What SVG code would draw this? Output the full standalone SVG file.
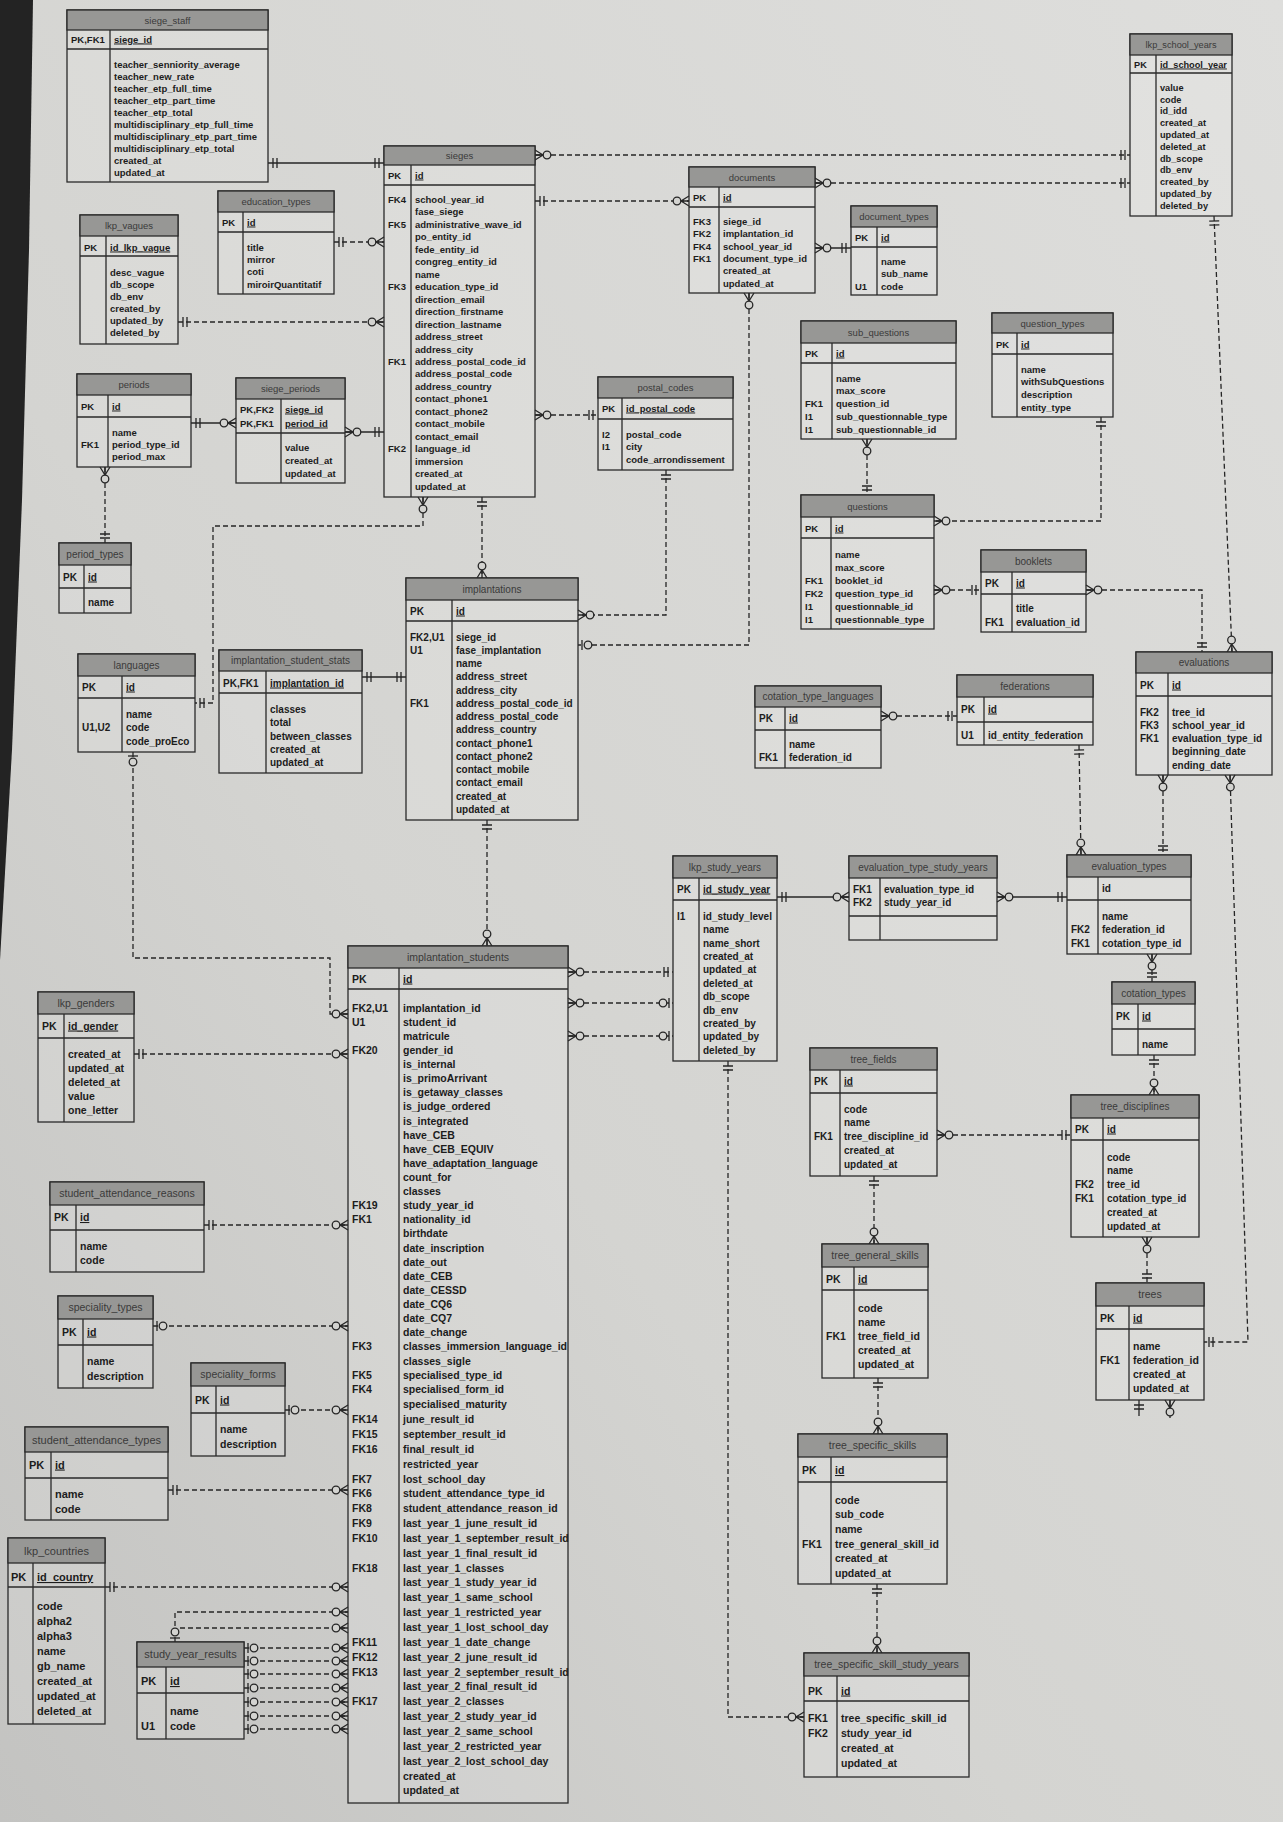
<svg xmlns="http://www.w3.org/2000/svg" width="1283" height="1822" viewBox="0 0 1283 1822">
<defs>
<linearGradient id="paper" x1="1" y1="0" x2="0" y2="1">
<stop offset="0" stop-color="#dededc"/>
<stop offset="0.6" stop-color="#d4d4d1"/>
<stop offset="1" stop-color="#c3c3c1"/>
</linearGradient>
<marker id="one" viewBox="-14 -7 16 14" refX="0" refY="0" markerWidth="16" markerHeight="14" markerUnits="userSpaceOnUse" orient="auto-start-reverse">
<path d="M-5,-5V5M-9,-5V5" stroke="#262626" stroke-width="1.3" fill="none"/>
</marker>
<marker id="zm" viewBox="-18 -7 20 14" refX="0" refY="0" markerWidth="20" markerHeight="14" markerUnits="userSpaceOnUse" orient="auto-start-reverse">
<path d="M0,-5L-8,0L0,5M-8,0H0" stroke="#262626" stroke-width="1.3" fill="none"/>
<circle cx="-12" cy="0" r="3.8" fill="#d3d3d0" stroke="#262626" stroke-width="1.3"/>
</marker>
<marker id="zo" viewBox="-18 -7 20 14" refX="0" refY="0" markerWidth="20" markerHeight="14" markerUnits="userSpaceOnUse" orient="auto-start-reverse">
<path d="M-4,-5V5" stroke="#262626" stroke-width="1.3" fill="none"/>
<circle cx="-10" cy="0" r="3.8" fill="#d3d3d0" stroke="#262626" stroke-width="1.3"/>
</marker>
</defs>
<style>
.bx{fill:#ffffff;fill-opacity:.13;stroke:#2a2a2a;stroke-width:1.3}
.hd{fill:#979795;stroke:#2a2a2a;stroke-width:1.3}
.ln{fill:none;stroke:#2a2a2a;stroke-width:1.3}
text{font-family:"Liberation Sans",Arial,sans-serif}
.tt{font-weight:normal;fill:#3a3a3a;text-anchor:middle}
.k,.a,.pk{font-weight:bold;fill:#1c1c1c}
.pk{text-decoration:underline}
.s0{font-size:9.2px}.s1{font-size:9.5px}.s2{font-size:10px}.s3{font-size:10.5px}.s4{font-size:11px}
.c{fill:none;stroke:#262626;stroke-width:1.3}
.d{stroke-dasharray:5 3}
</style>
<rect x="0" y="0" width="1283" height="1822" fill="url(#paper)"/>
<polygon points="0,0 33,0 29,250 22,500 12,750 0,960" fill="#232323"/>

<g id="connectors">
<path class="c" d="M268,163H384" marker-start="url(#one)" marker-end="url(#one)"/>
<path class="c d" d="M334,242H384" marker-start="url(#one)" marker-end="url(#zm)"/>
<path class="c d" d="M178,322H384" marker-start="url(#one)" marker-end="url(#zm)"/>
<path class="c" d="M191,423H236" marker-start="url(#one)" marker-end="url(#zm)"/>
<path class="c" d="M345,432H384" marker-start="url(#zm)" marker-end="url(#one)"/>
<path class="c d" d="M105,467V543" marker-start="url(#zm)" marker-end="url(#one)"/>
<path class="c d" d="M423,497V526H213V703H195" marker-start="url(#zm)" marker-end="url(#one)"/>
<path class="c d" d="M482,497V578" marker-start="url(#one)" marker-end="url(#zm)"/>
<path class="c d" d="M535,415H598" marker-start="url(#zm)" marker-end="url(#one)"/>
<path class="c d" d="M666,470V615H578" marker-start="url(#one)" marker-end="url(#zm)"/>
<path class="c d" d="M535,155H1130" marker-start="url(#zm)" marker-end="url(#one)"/>
<path class="c d" d="M535,201H689" marker-start="url(#one)" marker-end="url(#zm)"/>
<path class="c d" d="M815,183H1130" marker-start="url(#zm)" marker-end="url(#one)"/>
<path class="c" d="M815,248H851" marker-start="url(#zm)" marker-end="url(#one)"/>
<path class="c d" d="M749,293V645H578" marker-start="url(#zm)" marker-end="url(#zo)"/>
<path class="c" d="M362,677H406" marker-start="url(#one)" marker-end="url(#one)"/>
<path class="c d" d="M487,820V946" marker-start="url(#one)" marker-end="url(#zm)"/>
<path class="c d" d="M133,752V958H330V1014H348" marker-start="url(#zo)" marker-end="url(#zm)"/>
<path class="c d" d="M134,1054H348" marker-start="url(#one)" marker-end="url(#zm)"/>
<path class="c d" d="M204,1225H348" marker-start="url(#one)" marker-end="url(#zm)"/>
<path class="c d" d="M153,1326H348" marker-start="url(#zo)" marker-end="url(#zm)"/>
<path class="c d" d="M285,1410H348" marker-start="url(#zo)" marker-end="url(#zm)"/>
<path class="c d" d="M168,1490H348" marker-start="url(#one)" marker-end="url(#zm)"/>
<path class="c d" d="M105,1587H348" marker-start="url(#one)" marker-end="url(#zm)"/>
<path class="c d" d="M175,1642V1612H348" marker-start="url(#zo)" marker-end="url(#zm)"/>
<path class="c d" d="M180,1628H348" marker-end="url(#zm)"/>
<path class="c d" d="M244,1648H348" marker-start="url(#zo)" marker-end="url(#zm)"/>
<path class="c d" d="M244,1661H348" marker-start="url(#zo)" marker-end="url(#zm)"/>
<path class="c d" d="M244,1674H348" marker-start="url(#zo)" marker-end="url(#zm)"/>
<path class="c d" d="M244,1688H348" marker-start="url(#zo)" marker-end="url(#zm)"/>
<path class="c d" d="M244,1702H348" marker-start="url(#zo)" marker-end="url(#zm)"/>
<path class="c d" d="M244,1716H348" marker-start="url(#zo)" marker-end="url(#zm)"/>
<path class="c d" d="M244,1729H348" marker-start="url(#zo)" marker-end="url(#zm)"/>
<path class="c d" d="M568,972H673" marker-start="url(#zm)" marker-end="url(#one)"/>
<path class="c d" d="M568,1003H673" marker-start="url(#zm)" marker-end="url(#zo)"/>
<path class="c d" d="M568,1036H673" marker-start="url(#zm)" marker-end="url(#zo)"/>
<path class="c" d="M777,897H849" marker-start="url(#one)" marker-end="url(#zm)"/>
<path class="c" d="M997,897H1067" marker-start="url(#zm)" marker-end="url(#one)"/>
<path class="c d" d="M728,1061V1717H804" marker-start="url(#one)" marker-end="url(#zm)"/>
<path class="c d" d="M867,439V495" marker-start="url(#zm)" marker-end="url(#one)"/>
<path class="c d" d="M1101,417V521H934" marker-start="url(#one)" marker-end="url(#zm)"/>
<path class="c d" d="M934,590H981" marker-start="url(#zm)" marker-end="url(#one)"/>
<path class="c d" d="M1086,590H1202V652" marker-start="url(#zm)" marker-end="url(#one)"/>
<path class="c d" d="M1214,216L1232,652" marker-start="url(#one)" marker-end="url(#zm)"/>
<path class="c d" d="M1163,775V855" marker-start="url(#zm)" marker-end="url(#one)"/>
<path class="c d" d="M1079,745L1081,855" marker-start="url(#one)" marker-end="url(#zm)"/>
<path class="c d" d="M881,716H957" marker-start="url(#zm)" marker-end="url(#one)"/>
<path class="c d" d="M1230,775L1248,1342H1204" marker-start="url(#zm)" marker-end="url(#one)"/>
<path class="c d" d="M1152,954V982" marker-start="url(#zm)" marker-end="url(#one)"/>
<path class="c d" d="M1154,1055V1095" marker-start="url(#one)" marker-end="url(#zm)"/>
<path class="c d" d="M937,1135H1071" marker-start="url(#zm)" marker-end="url(#one)"/>
<path class="c d" d="M1147,1237V1283" marker-start="url(#zm)" marker-end="url(#one)"/>
<path class="c d" d="M874,1176V1244" marker-start="url(#one)" marker-end="url(#zm)"/>
<path class="c d" d="M878,1378V1434" marker-start="url(#one)" marker-end="url(#zm)"/>
<path class="c d" d="M877,1584V1653" marker-start="url(#one)" marker-end="url(#zm)"/>
<path class="c" d="M1139,1400V1416" marker-start="url(#one)"/>
<path class="c" d="M1170,1400V1418" marker-start="url(#zm)"/>
</g>

<g id="siege_staff" class="s1">
<rect class="bx" x="67" y="10" width="201" height="172"/>
<rect class="hd" x="67" y="10" width="201" height="20"/>
<path class="ln" d="M67,49H268M110,30V182"/>
<text class="tt" x="167.5" y="23.5">siege_staff</text>
<text class="k" x="71" y="42.5">PK,FK1</text>
<text class="pk" x="114" y="42.5">siege_id</text>
<text class="a"><tspan x="114" y="67.5">teacher_senniority_average</tspan><tspan x="114" y="79.5">teacher_new_rate</tspan><tspan x="114" y="91.5">teacher_etp_full_time</tspan><tspan x="114" y="103.5">teacher_etp_part_time</tspan><tspan x="114" y="115.5">teacher_etp_total</tspan><tspan x="114" y="127.5">multidisciplinary_etp_full_time</tspan><tspan x="114" y="139.5">multidisciplinary_etp_part_time</tspan><tspan x="114" y="151.5">multidisciplinary_etp_total</tspan><tspan x="114" y="163.5">created_at</tspan><tspan x="114" y="175.5">updated_at</tspan></text>
</g>

<g id="sieges" class="s1">
<rect class="bx" x="384" y="146" width="151" height="351"/>
<rect class="hd" x="384" y="146" width="151" height="19"/>
<path class="ln" d="M384,185H535M411,165V497"/>
<text class="tt" x="459.5" y="159">sieges</text>
<text class="k" x="388" y="178.5">PK</text>
<text class="pk" x="415" y="178.5">id</text>
<text class="k"><tspan x="388" y="202.5">FK4</tspan><tspan x="388" y="227.5">FK5</tspan><tspan x="388" y="290">FK3</tspan><tspan x="388" y="365">FK1</tspan><tspan x="388" y="452">FK2</tspan></text>
<text class="a"><tspan x="415" y="202.5">school_year_id</tspan><tspan x="415" y="215">fase_siege</tspan><tspan x="415" y="227.5">administrative_wave_id</tspan><tspan x="415" y="240">po_entity_id</tspan><tspan x="415" y="252.5">fede_entity_id</tspan><tspan x="415" y="265">congreg_entity_id</tspan><tspan x="415" y="277.5">name</tspan><tspan x="415" y="290">education_type_id</tspan><tspan x="415" y="302.5">direction_email</tspan><tspan x="415" y="315">direction_firstname</tspan><tspan x="415" y="327.5">direction_lastname</tspan><tspan x="415" y="340">address_street</tspan><tspan x="415" y="352.5">address_city</tspan><tspan x="415" y="365">address_postal_code_id</tspan><tspan x="415" y="377">address_postal_code</tspan><tspan x="415" y="389.5">address_country</tspan><tspan x="415" y="402">contact_phone1</tspan><tspan x="415" y="414.5">contact_phone2</tspan><tspan x="415" y="427">contact_mobile</tspan><tspan x="415" y="439.5">contact_email</tspan><tspan x="415" y="452">language_id</tspan><tspan x="415" y="464.5">immersion</tspan><tspan x="415" y="477">created_at</tspan><tspan x="415" y="489.5">updated_at</tspan></text>
</g>

<g id="education_types" class="s1">
<rect class="bx" x="218" y="191" width="116" height="103"/>
<rect class="hd" x="218" y="191" width="116" height="21"/>
<path class="ln" d="M218,232H334M243,212V294"/>
<text class="tt" x="276" y="205">education_types</text>
<text class="k" x="222" y="225.5">PK</text>
<text class="pk" x="247" y="225.5">id</text>
<text class="a"><tspan x="247" y="250.5">title</tspan><tspan x="247" y="262.5">mirror</tspan><tspan x="247" y="274.5">coti</tspan><tspan x="247" y="287.5">miroirQuantitatif</tspan></text>
</g>

<g id="lkp_vagues" class="s1">
<rect class="bx" x="80" y="215" width="98" height="129"/>
<rect class="hd" x="80" y="215" width="98" height="21"/>
<path class="ln" d="M80,256H178M106,236V344"/>
<text class="tt" x="129" y="229">lkp_vagues</text>
<text class="k" x="84" y="250.5">PK</text>
<text class="pk" x="110" y="250.5">id_lkp_vague</text>
<text class="a"><tspan x="110" y="275.5">desc_vague</tspan><tspan x="110" y="287.5">db_scope</tspan><tspan x="110" y="299.5">db_env</tspan><tspan x="110" y="312">created_by</tspan><tspan x="110" y="324">updated_by</tspan><tspan x="110" y="336">deleted_by</tspan></text>
</g>

<g id="periods" class="s1">
<rect class="bx" x="77" y="374" width="114" height="93"/>
<rect class="hd" x="77" y="374" width="114" height="21"/>
<path class="ln" d="M77,417H191M108,395V467"/>
<text class="tt" x="134" y="388">periods</text>
<text class="k" x="81" y="409.5">PK</text>
<text class="pk" x="112" y="409.5">id</text>
<text class="k" x="81" y="447.5">FK1</text>
<text class="a"><tspan x="112" y="435.5">name</tspan><tspan x="112" y="447.5">period_type_id</tspan><tspan x="112" y="459.5">period_max</tspan></text>
</g>

<g id="siege_periods" class="s1">
<rect class="bx" x="236" y="378" width="109" height="105"/>
<rect class="hd" x="236" y="378" width="109" height="21"/>
<path class="ln" d="M236,433H345M281,399V483"/>
<text class="tt" x="290.5" y="392">siege_periods</text>
<text class="k"><tspan x="240" y="412.5">PK,FK2</tspan><tspan x="240" y="426.5">PK,FK1</tspan></text>
<text class="pk"><tspan x="285" y="412.5">siege_id</tspan><tspan x="285" y="426.5">period_id</tspan></text>
<text class="a"><tspan x="285" y="450.5">value</tspan><tspan x="285" y="463.5">created_at</tspan><tspan x="285" y="476.5">updated_at</tspan></text>
</g>

<g id="period_types" class="s2">
<rect class="bx" x="59" y="543" width="72" height="70"/>
<rect class="hd" x="59" y="543" width="72" height="22"/>
<path class="ln" d="M59,588H131M84,565V613"/>
<text class="tt" x="95" y="557.5">period_types</text>
<text class="k" x="63" y="580.5">PK</text>
<text class="pk" x="88" y="580.5">id</text>
<text class="a" x="88" y="605.5">name</text>
</g>

<g id="languages" class="s2">
<rect class="bx" x="78" y="654" width="117" height="98"/>
<rect class="hd" x="78" y="654" width="117" height="22"/>
<path class="ln" d="M78,698H195M122,676V752"/>
<text class="tt" x="136.5" y="668.5">languages</text>
<text class="k" x="82" y="690.5">PK</text>
<text class="pk" x="126" y="690.5">id</text>
<text class="k" x="82" y="730.5">U1,U2</text>
<text class="a"><tspan x="126" y="717.5">name</tspan><tspan x="126" y="730.5">code</tspan><tspan x="126" y="744.5">code_proEco</tspan></text>
</g>

<g id="implantation_student_stats" class="s2">
<rect class="bx" x="219" y="650" width="143" height="123"/>
<rect class="hd" x="219" y="650" width="143" height="21"/>
<path class="ln" d="M219,693H362M266,671V773"/>
<text class="tt" x="290.5" y="664">implantation_student_stats</text>
<text class="k" x="223" y="686.5">PK,FK1</text>
<text class="pk" x="270" y="686.5">implantation_id</text>
<text class="a"><tspan x="270" y="712.5">classes</tspan><tspan x="270" y="725.5">total</tspan><tspan x="270" y="739.5">between_classes</tspan><tspan x="270" y="752.5">created_at</tspan><tspan x="270" y="765.5">updated_at</tspan></text>
</g>

<g id="postal_codes" class="s1">
<rect class="bx" x="598" y="377" width="135" height="93"/>
<rect class="hd" x="598" y="377" width="135" height="21"/>
<path class="ln" d="M598,419H733M622,398V470"/>
<text class="tt" x="665.5" y="391">postal_codes</text>
<text class="k" x="602" y="411.5">PK</text>
<text class="pk" x="626" y="411.5">id_postal_code</text>
<text class="k"><tspan x="602" y="437.5">I2</tspan><tspan x="602" y="449.5">I1</tspan></text>
<text class="a"><tspan x="626" y="437.5">postal_code</tspan><tspan x="626" y="449.5">city</tspan><tspan x="626" y="462.5">code_arrondissement</tspan></text>
</g>

<g id="implantations" class="s2">
<rect class="bx" x="406" y="578" width="172" height="242"/>
<rect class="hd" x="406" y="578" width="172" height="22"/>
<path class="ln" d="M406,621H578M452,600V820"/>
<text class="tt" x="492" y="592.5">implantations</text>
<text class="k" x="410" y="614.5">PK</text>
<text class="pk" x="456" y="614.5">id</text>
<text class="k"><tspan x="410" y="640.5">FK2,U1</tspan><tspan x="410" y="653.8">U1</tspan><tspan x="410" y="706.8">FK1</tspan></text>
<text class="a"><tspan x="456" y="640.5">siege_id</tspan><tspan x="456" y="653.8">fase_implantation</tspan><tspan x="456" y="667">name</tspan><tspan x="456" y="680.3">address_street</tspan><tspan x="456" y="693.5">address_city</tspan><tspan x="456" y="706.8">address_postal_code_id</tspan><tspan x="456" y="720">address_postal_code</tspan><tspan x="456" y="733.3">address_country</tspan><tspan x="456" y="746.5">contact_phone1</tspan><tspan x="456" y="759.8">contact_phone2</tspan><tspan x="456" y="773">contact_mobile</tspan><tspan x="456" y="786.3">contact_email</tspan><tspan x="456" y="799.5">created_at</tspan><tspan x="456" y="812.8">updated_at</tspan></text>
</g>

<g id="documents" class="s1">
<rect class="bx" x="689" y="167" width="126" height="126"/>
<rect class="hd" x="689" y="167" width="126" height="20"/>
<path class="ln" d="M689,207H815M719,187V293"/>
<text class="tt" x="752" y="180.5">documents</text>
<text class="k" x="693" y="200.5">PK</text>
<text class="pk" x="723" y="200.5">id</text>
<text class="k"><tspan x="693" y="224.5">FK3</tspan><tspan x="693" y="237">FK2</tspan><tspan x="693" y="249.5">FK4</tspan><tspan x="693" y="261.5">FK1</tspan></text>
<text class="a"><tspan x="723" y="224.5">siege_id</tspan><tspan x="723" y="237">implantation_id</tspan><tspan x="723" y="249.5">school_year_id</tspan><tspan x="723" y="261.5">document_type_id</tspan><tspan x="723" y="274">created_at</tspan><tspan x="723" y="286.5">updated_at</tspan></text>
</g>

<g id="document_types" class="s1">
<rect class="bx" x="851" y="206" width="86" height="89"/>
<rect class="hd" x="851" y="206" width="86" height="21"/>
<path class="ln" d="M851,247H937M877,227V295"/>
<text class="tt" x="894" y="220">document_types</text>
<text class="k" x="855" y="240.5">PK</text>
<text class="pk" x="881" y="240.5">id</text>
<text class="k" x="855" y="289.5">U1</text>
<text class="a"><tspan x="881" y="264.5">name</tspan><tspan x="881" y="276.5">sub_name</tspan><tspan x="881" y="289.5">code</tspan></text>
</g>

<g id="lkp_school_years" class="s0">
<rect class="bx" x="1130" y="34" width="102" height="182"/>
<rect class="hd" x="1130" y="34" width="102" height="21"/>
<path class="ln" d="M1130,73H1232M1156,55V216"/>
<text class="tt" x="1181" y="48">lkp_school_years</text>
<text class="k" x="1134" y="67.5">PK</text>
<text class="pk" x="1160" y="67.5">id_school_year</text>
<text class="a"><tspan x="1160" y="90.5">value</tspan><tspan x="1160" y="102.5">code</tspan><tspan x="1160" y="114">id_idd</tspan><tspan x="1160" y="126">created_at</tspan><tspan x="1160" y="137.5">updated_at</tspan><tspan x="1160" y="149.5">deleted_at</tspan><tspan x="1160" y="161.5">db_scope</tspan><tspan x="1160" y="173">db_env</tspan><tspan x="1160" y="185">created_by</tspan><tspan x="1160" y="196.5">updated_by</tspan><tspan x="1160" y="208.5">deleted_by</tspan></text>
</g>

<g id="sub_questions" class="s1">
<rect class="bx" x="801" y="321" width="155" height="118"/>
<rect class="hd" x="801" y="321" width="155" height="22"/>
<path class="ln" d="M801,363H956M832,343V439"/>
<text class="tt" x="878.5" y="335.5">sub_questions</text>
<text class="k" x="805" y="356.5">PK</text>
<text class="pk" x="836" y="356.5">id</text>
<text class="k"><tspan x="805" y="407">FK1</tspan><tspan x="805" y="419.8">I1</tspan><tspan x="805" y="432.5">I1</tspan></text>
<text class="a"><tspan x="836" y="381.5">name</tspan><tspan x="836" y="394.3">max_score</tspan><tspan x="836" y="407">question_id</tspan><tspan x="836" y="419.8">sub_questionnable_type</tspan><tspan x="836" y="432.5">sub_questionnable_id</tspan></text>
</g>

<g id="question_types" class="s1">
<rect class="bx" x="992" y="313" width="121" height="104"/>
<rect class="hd" x="992" y="313" width="121" height="20"/>
<path class="ln" d="M992,354H1113M1017,333V417"/>
<text class="tt" x="1052.5" y="326.5">question_types</text>
<text class="k" x="996" y="347.5">PK</text>
<text class="pk" x="1021" y="347.5">id</text>
<text class="a"><tspan x="1021" y="372.5">name</tspan><tspan x="1021" y="384.5">withSubQuestions</tspan><tspan x="1021" y="397.5">description</tspan><tspan x="1021" y="410.5">entity_type</tspan></text>
</g>

<g id="questions" class="s1">
<rect class="bx" x="801" y="495" width="133" height="134"/>
<rect class="hd" x="801" y="495" width="133" height="22"/>
<path class="ln" d="M801,538H934M831,517V629"/>
<text class="tt" x="867.5" y="509.5">questions</text>
<text class="k" x="805" y="531.5">PK</text>
<text class="pk" x="835" y="531.5">id</text>
<text class="k"><tspan x="805" y="583.5">FK1</tspan><tspan x="805" y="596.5">FK2</tspan><tspan x="805" y="609.5">I1</tspan><tspan x="805" y="622.5">I1</tspan></text>
<text class="a"><tspan x="835" y="557.5">name</tspan><tspan x="835" y="570.5">max_score</tspan><tspan x="835" y="583.5">booklet_id</tspan><tspan x="835" y="596.5">question_type_id</tspan><tspan x="835" y="609.5">questionnable_id</tspan><tspan x="835" y="622.5">questionnable_type</tspan></text>
</g>

<g id="booklets" class="s2">
<rect class="bx" x="981" y="550" width="105" height="82"/>
<rect class="hd" x="981" y="550" width="105" height="22"/>
<path class="ln" d="M981,594H1086M1012,572V632"/>
<text class="tt" x="1033.5" y="564.5">booklets</text>
<text class="k" x="985" y="586.5">PK</text>
<text class="pk" x="1016" y="586.5">id</text>
<text class="k" x="985" y="625.5">FK1</text>
<text class="a"><tspan x="1016" y="611.5">title</tspan><tspan x="1016" y="625.5">evaluation_id</tspan></text>
</g>

<g id="evaluations" class="s2">
<rect class="bx" x="1136" y="652" width="136" height="123"/>
<rect class="hd" x="1136" y="652" width="136" height="21"/>
<path class="ln" d="M1136,696H1272M1168,673V775"/>
<text class="tt" x="1204" y="666">evaluations</text>
<text class="k" x="1140" y="688.5">PK</text>
<text class="pk" x="1172" y="688.5">id</text>
<text class="k"><tspan x="1140" y="715.5">FK2</tspan><tspan x="1140" y="728.8">FK3</tspan><tspan x="1140" y="742">FK1</tspan></text>
<text class="a"><tspan x="1172" y="715.5">tree_id</tspan><tspan x="1172" y="728.8">school_year_id</tspan><tspan x="1172" y="742">evaluation_type_id</tspan><tspan x="1172" y="755.3">beginning_date</tspan><tspan x="1172" y="768.5">ending_date</tspan></text>
</g>

<g id="cotation_type_languages" class="s2">
<rect class="bx" x="755" y="686" width="126" height="82"/>
<rect class="hd" x="755" y="686" width="126" height="21"/>
<path class="ln" d="M755,730H881M785,707V768"/>
<text class="tt" x="818" y="700">cotation_type_languages</text>
<text class="k" x="759" y="721.5">PK</text>
<text class="pk" x="789" y="721.5">id</text>
<text class="k" x="759" y="760.5">FK1</text>
<text class="a"><tspan x="789" y="747.5">name</tspan><tspan x="789" y="760.5">federation_id</tspan></text>
</g>

<g id="federations" class="s2">
<rect class="bx" x="957" y="675" width="136" height="70"/>
<rect class="hd" x="957" y="675" width="136" height="22"/>
<path class="ln" d="M957,722H1093M984,697V745"/>
<text class="tt" x="1025" y="689.5">federations</text>
<text class="k" x="961" y="712.5">PK</text>
<text class="pk" x="988" y="712.5">id</text>
<text class="k" x="961" y="738.5">U1</text>
<text class="a" x="988" y="738.5">id_entity_federation</text>
</g>

<g id="lkp_study_years" class="s2">
<rect class="bx" x="673" y="856" width="104" height="205"/>
<rect class="hd" x="673" y="856" width="104" height="22"/>
<path class="ln" d="M673,900H777M699,878V1061"/>
<text class="tt" x="725" y="870.5">lkp_study_years</text>
<text class="k" x="677" y="892.5">PK</text>
<text class="pk" x="703" y="892.5">id_study_year</text>
<text class="k" x="677" y="919.5">I1</text>
<text class="a"><tspan x="703" y="919.5">id_study_level</tspan><tspan x="703" y="933">name</tspan><tspan x="703" y="946.5">name_short</tspan><tspan x="703" y="960">created_at</tspan><tspan x="703" y="973">updated_at</tspan><tspan x="703" y="986.5">deleted_at</tspan><tspan x="703" y="1000">db_scope</tspan><tspan x="703" y="1013.5">db_env</tspan><tspan x="703" y="1026.5">created_by</tspan><tspan x="703" y="1040">updated_by</tspan><tspan x="703" y="1053.5">deleted_by</tspan></text>
</g>

<g id="evaluation_type_study_years" class="s2">
<rect class="bx" x="849" y="856" width="148" height="84"/>
<rect class="hd" x="849" y="856" width="148" height="22"/>
<path class="ln" d="M849,916H997M880,878V940"/>
<text class="tt" x="923" y="870.5">evaluation_type_study_years</text>
<text class="k"><tspan x="853" y="892.5">FK1</tspan><tspan x="853" y="905.5">FK2</tspan></text>
<text class="a"><tspan x="884" y="892.5">evaluation_type_id</tspan><tspan x="884" y="905.5">study_year_id</tspan></text>
</g>

<g id="evaluation_types" class="s2">
<rect class="bx" x="1067" y="855" width="124" height="99"/>
<rect class="hd" x="1067" y="855" width="124" height="22"/>
<path class="ln" d="M1067,900H1191M1098,877V954"/>
<text class="tt" x="1129" y="869.5">evaluation_types</text>
<text class="a" x="1102" y="891.5">id</text>
<text class="k"><tspan x="1071" y="932.5">FK2</tspan><tspan x="1071" y="946.5">FK1</tspan></text>
<text class="a"><tspan x="1102" y="919.5">name</tspan><tspan x="1102" y="932.5">federation_id</tspan><tspan x="1102" y="946.5">cotation_type_id</tspan></text>
</g>

<g id="cotation_types" class="s2">
<rect class="bx" x="1112" y="982" width="83" height="73"/>
<rect class="hd" x="1112" y="982" width="83" height="22"/>
<path class="ln" d="M1112,1029H1195M1138,1004V1055"/>
<text class="tt" x="1153.5" y="996.5">cotation_types</text>
<text class="k" x="1116" y="1019.5">PK</text>
<text class="pk" x="1142" y="1019.5">id</text>
<text class="a" x="1142" y="1047.5">name</text>
</g>

<g id="tree_fields" class="s2">
<rect class="bx" x="810" y="1048" width="127" height="128"/>
<rect class="hd" x="810" y="1048" width="127" height="22"/>
<path class="ln" d="M810,1093H937M840,1070V1176"/>
<text class="tt" x="873.5" y="1062.5">tree_fields</text>
<text class="k" x="814" y="1084.5">PK</text>
<text class="pk" x="844" y="1084.5">id</text>
<text class="k" x="814" y="1140">FK1</text>
<text class="a"><tspan x="844" y="1112.5">code</tspan><tspan x="844" y="1126.3">name</tspan><tspan x="844" y="1140">tree_discipline_id</tspan><tspan x="844" y="1153.8">created_at</tspan><tspan x="844" y="1167.5">updated_at</tspan></text>
</g>

<g id="tree_disciplines" class="s2">
<rect class="bx" x="1071" y="1095" width="128" height="142"/>
<rect class="hd" x="1071" y="1095" width="128" height="23"/>
<path class="ln" d="M1071,1140H1199M1103,1118V1237"/>
<text class="tt" x="1135" y="1110">tree_disciplines</text>
<text class="k" x="1075" y="1132.5">PK</text>
<text class="pk" x="1107" y="1132.5">id</text>
<text class="k"><tspan x="1075" y="1188.1">FK2</tspan><tspan x="1075" y="1201.9">FK1</tspan></text>
<text class="a"><tspan x="1107" y="1160.5">code</tspan><tspan x="1107" y="1174.3">name</tspan><tspan x="1107" y="1188.1">tree_id</tspan><tspan x="1107" y="1201.9">cotation_type_id</tspan><tspan x="1107" y="1215.7">created_at</tspan><tspan x="1107" y="1229.5">updated_at</tspan></text>
</g>

<g id="tree_general_skills" class="s3">
<rect class="bx" x="822" y="1244" width="106" height="134"/>
<rect class="hd" x="822" y="1244" width="106" height="23"/>
<path class="ln" d="M822,1290H928M854,1267V1378"/>
<text class="tt" x="875" y="1259">tree_general_skills</text>
<text class="k" x="826" y="1282.5">PK</text>
<text class="pk" x="858" y="1282.5">id</text>
<text class="k" x="826" y="1339.9">FK1</text>
<text class="a"><tspan x="858" y="1311.5">code</tspan><tspan x="858" y="1325.7">name</tspan><tspan x="858" y="1339.9">tree_field_id</tspan><tspan x="858" y="1354.1">created_at</tspan><tspan x="858" y="1368.3">updated_at</tspan></text>
</g>

<g id="trees" class="s3">
<rect class="bx" x="1096" y="1283" width="108" height="117"/>
<rect class="hd" x="1096" y="1283" width="108" height="23"/>
<path class="ln" d="M1096,1329H1204M1129,1306V1400"/>
<text class="tt" x="1150" y="1298">trees</text>
<text class="k" x="1100" y="1321.5">PK</text>
<text class="pk" x="1133" y="1321.5">id</text>
<text class="k" x="1100" y="1363.5">FK1</text>
<text class="a"><tspan x="1133" y="1349.5">name</tspan><tspan x="1133" y="1363.5">federation_id</tspan><tspan x="1133" y="1377.5">created_at</tspan><tspan x="1133" y="1391.5">updated_at</tspan></text>
</g>

<g id="tree_specific_skills" class="s3">
<rect class="bx" x="798" y="1434" width="149" height="150"/>
<rect class="hd" x="798" y="1434" width="149" height="23"/>
<path class="ln" d="M798,1482H947M831,1457V1584"/>
<text class="tt" x="872.5" y="1449">tree_specific_skills</text>
<text class="k" x="802" y="1474">PK</text>
<text class="pk" x="835" y="1474">id</text>
<text class="k" x="802" y="1547.5">FK1</text>
<text class="a"><tspan x="835" y="1503.5">code</tspan><tspan x="835" y="1518">sub_code</tspan><tspan x="835" y="1532.5">name</tspan><tspan x="835" y="1547.5">tree_general_skill_id</tspan><tspan x="835" y="1562">created_at</tspan><tspan x="835" y="1576.5">updated_at</tspan></text>
</g>

<g id="tree_specific_skill_study_years" class="s3">
<rect class="bx" x="804" y="1653" width="165" height="124"/>
<rect class="hd" x="804" y="1653" width="165" height="23"/>
<path class="ln" d="M804,1701H969M837,1676V1777"/>
<text class="tt" x="886.5" y="1668">tree_specific_skill_study_years</text>
<text class="k" x="808" y="1694.5">PK</text>
<text class="pk" x="841" y="1694.5">id</text>
<text class="k"><tspan x="808" y="1721.5">FK1</tspan><tspan x="808" y="1736.5">FK2</tspan></text>
<text class="a"><tspan x="841" y="1721.5">tree_specific_skill_id</tspan><tspan x="841" y="1736.5">study_year_id</tspan><tspan x="841" y="1751.5">created_at</tspan><tspan x="841" y="1766.5">updated_at</tspan></text>
</g>

<g id="implantation_students" class="s3">
<rect class="bx" x="348" y="946" width="220" height="857"/>
<rect class="hd" x="348" y="946" width="220" height="22"/>
<path class="ln" d="M348,989H568M399,968V1803"/>
<text class="tt" x="458" y="960.5">implantation_students</text>
<text class="k" x="352" y="982.5">PK</text>
<text class="pk" x="403" y="982.5">id</text>
<text class="k"><tspan x="352" y="1011.5">FK2,U1</tspan><tspan x="352" y="1025.6">U1</tspan><tspan x="352" y="1053.9">FK20</tspan><tspan x="352" y="1209.2">FK19</tspan><tspan x="352" y="1223.3">FK1</tspan><tspan x="352" y="1350.4">FK3</tspan><tspan x="352" y="1378.6">FK5</tspan><tspan x="352" y="1393.4">FK4</tspan><tspan x="352" y="1423.1">FK14</tspan><tspan x="352" y="1437.9">FK15</tspan><tspan x="352" y="1452.8">FK16</tspan><tspan x="352" y="1482.5">FK7</tspan><tspan x="352" y="1497.3">FK6</tspan><tspan x="352" y="1512.2">FK8</tspan><tspan x="352" y="1527">FK9</tspan><tspan x="352" y="1541.9">FK10</tspan><tspan x="352" y="1571.6">FK18</tspan><tspan x="352" y="1645.8">FK11</tspan><tspan x="352" y="1660.7">FK12</tspan><tspan x="352" y="1675.5">FK13</tspan><tspan x="352" y="1705.2">FK17</tspan></text>
<text class="a"><tspan x="403" y="1011.5">implantation_id</tspan><tspan x="403" y="1025.6">student_id</tspan><tspan x="403" y="1039.7">matricule</tspan><tspan x="403" y="1053.9">gender_id</tspan><tspan x="403" y="1068">is_internal</tspan><tspan x="403" y="1082.1">is_primoArrivant</tspan><tspan x="403" y="1096.2">is_getaway_classes</tspan><tspan x="403" y="1110.3">is_judge_ordered</tspan><tspan x="403" y="1124.5">is_integrated</tspan><tspan x="403" y="1138.6">have_CEB</tspan><tspan x="403" y="1152.7">have_CEB_EQUIV</tspan><tspan x="403" y="1166.8">have_adaptation_language</tspan><tspan x="403" y="1180.9">count_for</tspan><tspan x="403" y="1195.1">classes</tspan><tspan x="403" y="1209.2">study_year_id</tspan><tspan x="403" y="1223.3">nationality_id</tspan><tspan x="403" y="1237.4">birthdate</tspan><tspan x="403" y="1251.5">date_inscription</tspan><tspan x="403" y="1265.7">date_out</tspan><tspan x="403" y="1279.8">date_CEB</tspan><tspan x="403" y="1293.9">date_CESSD</tspan><tspan x="403" y="1308">date_CQ6</tspan><tspan x="403" y="1322.1">date_CQ7</tspan><tspan x="403" y="1336.3">date_change</tspan><tspan x="403" y="1350.4">classes_immersion_language_id</tspan><tspan x="403" y="1364.5">classes_sigle</tspan><tspan x="403" y="1378.6">specialised_type_id</tspan><tspan x="403" y="1393.4">specialised_form_id</tspan><tspan x="403" y="1408.2">specialised_maturity</tspan><tspan x="403" y="1423.1">june_result_id</tspan><tspan x="403" y="1437.9">september_result_id</tspan><tspan x="403" y="1452.8">final_result_id</tspan><tspan x="403" y="1467.6">restricted_year</tspan><tspan x="403" y="1482.5">lost_school_day</tspan><tspan x="403" y="1497.3">student_attendance_type_id</tspan><tspan x="403" y="1512.2">student_attendance_reason_id</tspan><tspan x="403" y="1527">last_year_1_june_result_id</tspan><tspan x="403" y="1541.9">last_year_1_september_result_id</tspan><tspan x="403" y="1556.7">last_year_1_final_result_id</tspan><tspan x="403" y="1571.6">last_year_1_classes</tspan><tspan x="403" y="1586.4">last_year_1_study_year_id</tspan><tspan x="403" y="1601.3">last_year_1_same_school</tspan><tspan x="403" y="1616.1">last_year_1_restricted_year</tspan><tspan x="403" y="1631">last_year_1_lost_school_day</tspan><tspan x="403" y="1645.8">last_year_1_date_change</tspan><tspan x="403" y="1660.7">last_year_2_june_result_id</tspan><tspan x="403" y="1675.5">last_year_2_september_result_id</tspan><tspan x="403" y="1690.4">last_year_2_final_result_id</tspan><tspan x="403" y="1705.2">last_year_2_classes</tspan><tspan x="403" y="1720.1">last_year_2_study_year_id</tspan><tspan x="403" y="1734.9">last_year_2_same_school</tspan><tspan x="403" y="1749.8">last_year_2_restricted_year</tspan><tspan x="403" y="1764.6">last_year_2_lost_school_day</tspan><tspan x="403" y="1779.5">created_at</tspan><tspan x="403" y="1794.3">updated_at</tspan></text>
</g>

<g id="lkp_genders" class="s3">
<rect class="bx" x="38" y="992" width="96" height="130"/>
<rect class="hd" x="38" y="992" width="96" height="22"/>
<path class="ln" d="M38,1038H134M64,1014V1122"/>
<text class="tt" x="86" y="1006.5">lkp_genders</text>
<text class="k" x="42" y="1029.5">PK</text>
<text class="pk" x="68" y="1029.5">id_gender</text>
<text class="a"><tspan x="68" y="1057.5">created_at</tspan><tspan x="68" y="1071.5">updated_at</tspan><tspan x="68" y="1085.5">deleted_at</tspan><tspan x="68" y="1099.5">value</tspan><tspan x="68" y="1113.5">one_letter</tspan></text>
</g>

<g id="student_attendance_reasons" class="s3">
<rect class="bx" x="50" y="1182" width="154" height="90"/>
<rect class="hd" x="50" y="1182" width="154" height="23"/>
<path class="ln" d="M50,1230H204M76,1205V1272"/>
<text class="tt" x="127" y="1197">student_attendance_reasons</text>
<text class="k" x="54" y="1221">PK</text>
<text class="pk" x="80" y="1221">id</text>
<text class="a"><tspan x="80" y="1249.5">name</tspan><tspan x="80" y="1263.5">code</tspan></text>
</g>

<g id="speciality_types" class="s3">
<rect class="bx" x="58" y="1296" width="95" height="92"/>
<rect class="hd" x="58" y="1296" width="95" height="23"/>
<path class="ln" d="M58,1345H153M83,1319V1388"/>
<text class="tt" x="105.5" y="1311">speciality_types</text>
<text class="k" x="62" y="1335.5">PK</text>
<text class="pk" x="87" y="1335.5">id</text>
<text class="a"><tspan x="87" y="1364.5">name</tspan><tspan x="87" y="1379.5">description</tspan></text>
</g>

<g id="speciality_forms" class="s3">
<rect class="bx" x="191" y="1363" width="94" height="93"/>
<rect class="hd" x="191" y="1363" width="94" height="23"/>
<path class="ln" d="M191,1413H285M216,1386V1456"/>
<text class="tt" x="238" y="1378">speciality_forms</text>
<text class="k" x="195" y="1403.5">PK</text>
<text class="pk" x="220" y="1403.5">id</text>
<text class="a"><tspan x="220" y="1432.5">name</tspan><tspan x="220" y="1447.5">description</tspan></text>
</g>

<g id="student_attendance_types" class="s4">
<rect class="bx" x="25" y="1427" width="143" height="93"/>
<rect class="hd" x="25" y="1427" width="143" height="25"/>
<path class="ln" d="M25,1478H168M51,1452V1520"/>
<text class="tt" x="96.5" y="1443.5">student_attendance_types</text>
<text class="k" x="29" y="1468.5">PK</text>
<text class="pk" x="55" y="1468.5">id</text>
<text class="a"><tspan x="55" y="1497.5">name</tspan><tspan x="55" y="1512.5">code</tspan></text>
</g>

<g id="lkp_countries" class="s4">
<rect class="bx" x="8" y="1538" width="97" height="186"/>
<rect class="hd" x="8" y="1538" width="97" height="25"/>
<path class="ln" d="M8,1587H105M33,1563V1724"/>
<text class="tt" x="56.5" y="1554.5">lkp_countries</text>
<text class="k" x="11" y="1581">PK</text>
<text class="pk" x="37" y="1581">id_country</text>
<text class="a"><tspan x="37" y="1610">code</tspan><tspan x="37" y="1625">alpha2</tspan><tspan x="37" y="1640">alpha3</tspan><tspan x="37" y="1655">name</tspan><tspan x="37" y="1670">gb_name</tspan><tspan x="37" y="1685">created_at</tspan><tspan x="37" y="1700">updated_at</tspan><tspan x="37" y="1715">deleted_at</tspan></text>
</g>

<g id="study_year_results" class="s4">
<rect class="bx" x="137" y="1642" width="107" height="97"/>
<rect class="hd" x="137" y="1642" width="107" height="25"/>
<path class="ln" d="M137,1693H244M166,1667V1739"/>
<text class="tt" x="190.5" y="1658">study_year_results</text>
<text class="k" x="141" y="1685">PK</text>
<text class="pk" x="170" y="1685">id</text>
<text class="k" x="141" y="1730">U1</text>
<text class="a"><tspan x="170" y="1715">name</tspan><tspan x="170" y="1730">code</tspan></text>
</g>
</svg>
